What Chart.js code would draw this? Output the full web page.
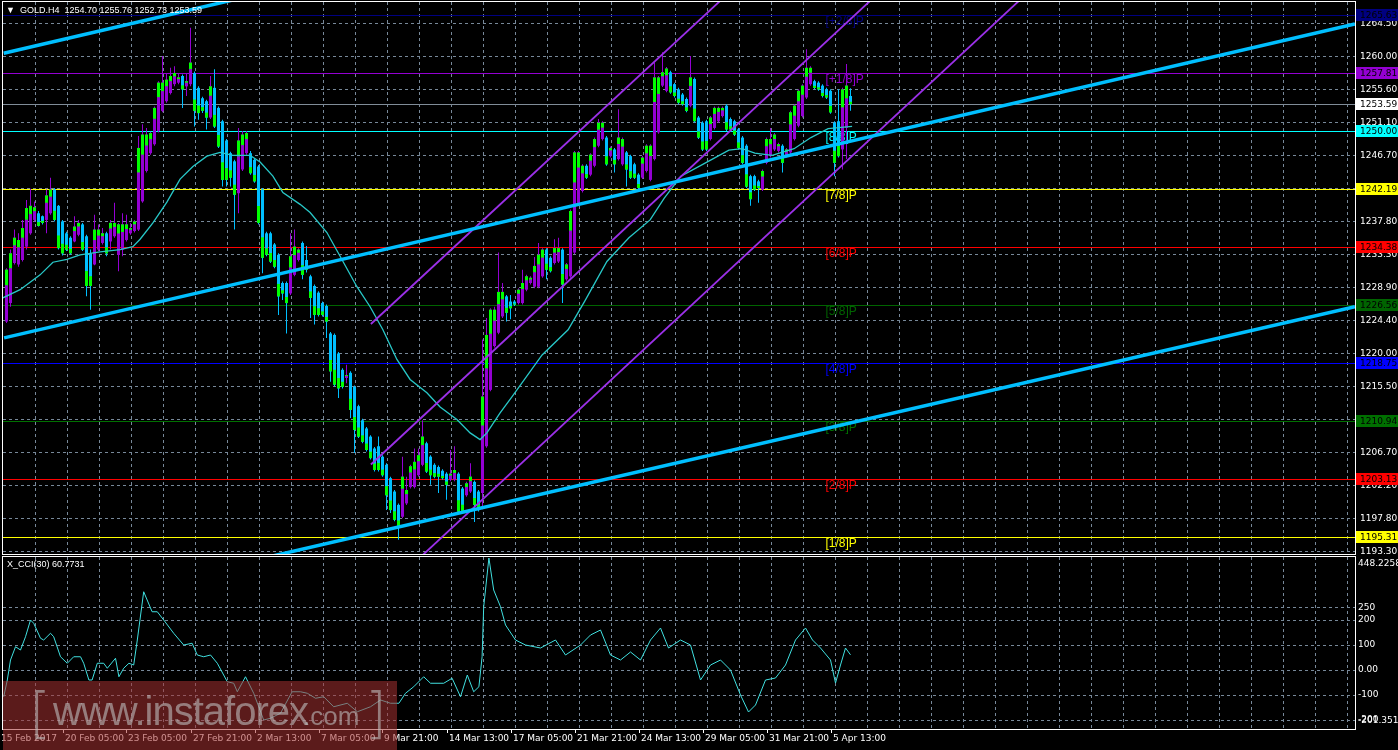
<!DOCTYPE html>
<html>
<head>
<meta charset="utf-8">
<title>GOLD.H4</title>
<script src="https://cdn.jsdelivr.net/npm/chart.js@4.4.1/dist/chart.umd.min.js"></script>
<style>
  html, body { margin:0; padding:0; background:#000; }
  #wrap { position:relative; width:1398px; height:750px; overflow:hidden; background:#000; font-family:"Liberation Sans", Arial, sans-serif; }
  canvas { position:absolute; left:0; }
  #main { top:0; }
  #osc { top:556px; }
  .lbl { position:absolute; color:#fff; font-size:9px; line-height:11px; white-space:pre; }
  #head { left:6px; top:5px; }
  #cciName { left:7px; top:559px; }
  #mark { position:absolute; left:3px; top:681px; width:394px; height:69px; background:rgba(165,50,50,0.55); white-space:nowrap; }
  #mark span { position:absolute; line-height:1; color:rgba(190,190,190,0.6); }
</style>
</head>
<body>
<div id="wrap">
  <canvas id="main" width="1398" height="556"></canvas>
  <canvas id="osc" width="1398" height="194"></canvas>
  <div id="head" class="lbl"></div>
  <div id="cciName" class="lbl"></div>
  <div id="mark">
    <span style="left:26px;top:4px;font-size:56px;font-family:'DejaVu Sans';font-weight:200;">[</span>
    <span style="left:50px;top:10px;font-size:40px;letter-spacing:-1px;">www.instaforex</span>
    <span style="left:300px;top:22px;font-size:26px;">.com</span>
    <span style="left:362px;top:4px;font-size:56px;font-family:'DejaVu Sans';font-weight:200;">]</span>
  </div>
</div>
<script>
// ---- data ----
const symbol = 'GOLD.H4';

// OHLC per H4 bar, bar 0 = 15 Feb 2017
const opens = [
  1224.3, 1226.8, 1232.2, 1232.0, 1232.6, 1234.4, 1236.2, 1238.0, 1238.9, 1238.5,
  1238.0, 1238.9, 1242.1, 1239.9, 1237.8, 1236.2, 1235.6, 1235.1, 1236.0, 1237.4,
  1235.8, 1233.5, 1232.0, 1234.0, 1234.9, 1236.2, 1235.1, 1235.8, 1233.3, 1234.0,
  1235.3, 1236.2, 1236.5, 1236.7, 1240.5, 1244.6, 1247.0, 1248.2, 1250.0, 1252.7,
  1254.0, 1255.1, 1256.3, 1256.5, 1257.4, 1256.0, 1256.3, 1257.8, 1255.8, 1254.4,
  1254.0, 1251.8, 1255.8, 1253.1, 1251.3, 1248.7, 1247.0, 1245.9, 1241.6, 1244.8,
  1247.0, 1247.0, 1246.1, 1245.2, 1242.1, 1236.2, 1236.2, 1234.7, 1233.3, 1229.5,
  1229.5, 1228.1, 1230.6, 1232.6, 1234.9, 1232.6, 1230.4, 1229.1, 1228.2, 1226.8,
  1226.4, 1222.7, 1222.5, 1220.0, 1217.8, 1216.7, 1217.4, 1215.5, 1212.9, 1211.0,
  1209.9, 1208.8, 1207.2, 1207.5, 1206.1, 1205.0, 1203.2, 1201.4, 1199.6, 1198.0,
  1199.8, 1202.0, 1202.0, 1203.6, 1205.0, 1207.9, 1206.1, 1205.0, 1204.7, 1204.2,
  1203.8, 1203.0, 1203.0, 1203.8, 1201.8, 1200.9, 1201.4, 1202.7, 1201.4, 1201.2,
  1207.5, 1215.1, 1221.0, 1222.8, 1225.0, 1227.7, 1227.0, 1227.0, 1226.8, 1226.8,
  1228.6, 1229.5, 1229.0, 1229.0, 1230.4, 1234.0, 1232.9, 1232.2, 1232.4, 1234.0,
  1230.0, 1230.4, 1233.6, 1240.3, 1241.9, 1245.3, 1244.1, 1245.3, 1248.0, 1248.9,
  1249.1, 1246.6, 1247.5, 1246.2, 1245.5, 1247.1, 1246.6, 1245.5, 1244.1, 1243.7,
  1244.6, 1243.4, 1246.2, 1249.8, 1256.1, 1255.4, 1257.9, 1256.3, 1255.6, 1254.9,
  1254.3, 1253.4, 1257.0, 1251.8, 1251.1, 1251.3, 1248.9, 1250.4, 1251.3, 1252.0,
  1253.4, 1251.6, 1251.3, 1250.2, 1249.1, 1248.0, 1243.9, 1243.9, 1243.2, 1242.1,
  1245.7, 1246.6, 1247.5, 1247.3, 1248.0, 1246.6, 1247.1, 1248.9, 1250.7, 1252.0,
  1254.5, 1256.3, 1256.7, 1256.5, 1256.1, 1255.6, 1255.4, 1251.1, 1251.3, 1247.5,
  1250.4, 1254.70
];
const highs = [
  1231.5, 1234.0, 1236.7, 1236.2, 1238.0, 1240.7, 1242.2, 1240.5, 1239.2, 1238.6,
  1242.1, 1243.7, 1242.3, 1240.0, 1238.0, 1236.4, 1235.8, 1238.5, 1238.0, 1237.6,
  1236.0, 1234.0, 1238.7, 1237.4, 1236.9, 1236.4, 1238.0, 1240.3, 1237.6, 1238.9,
  1238.7, 1237.6, 1238.0, 1249.3, 1250.9, 1250.4, 1249.9, 1253.3, 1256.7, 1260.1,
  1257.8, 1258.5, 1258.7, 1257.8, 1257.6, 1257.8, 1263.9, 1258.0, 1256.0, 1254.6,
  1254.2, 1257.4, 1258.3, 1253.3, 1251.5, 1248.9, 1247.2, 1246.1, 1250.4, 1250.0,
  1250.0, 1247.3, 1246.3, 1245.4, 1242.3, 1236.4, 1236.4, 1234.9, 1233.5, 1229.7,
  1229.7, 1236.2, 1236.7, 1234.2, 1235.1, 1234.5, 1230.6, 1229.3, 1228.4, 1227.0,
  1226.6, 1222.9, 1222.7, 1220.2, 1218.0, 1218.5, 1217.6, 1215.7, 1213.1, 1211.2,
  1210.1, 1209.0, 1207.4, 1208.8, 1206.3, 1205.2, 1203.4, 1201.6, 1199.8, 1206.1,
  1203.4, 1205.0, 1207.2, 1207.2, 1211.0, 1208.1, 1206.3, 1205.2, 1204.9, 1204.4,
  1204.0, 1207.0, 1207.5, 1204.0, 1202.0, 1202.7, 1205.2, 1202.9, 1201.6, 1221.9,
  1224.8, 1226.1, 1226.3, 1233.6, 1229.5, 1227.9, 1227.9, 1227.2, 1228.8, 1231.3,
  1230.6, 1230.4, 1233.0, 1234.9, 1234.2, 1234.2, 1233.1, 1235.4, 1235.6, 1234.2,
  1232.2, 1239.4, 1247.3, 1247.3, 1245.5, 1245.5, 1247.0, 1249.1, 1251.6, 1251.3,
  1249.3, 1247.9, 1247.7, 1252.9, 1249.1, 1247.3, 1246.8, 1245.7, 1244.3, 1246.6,
  1248.2, 1248.2, 1259.2, 1257.4, 1260.6, 1258.6, 1258.1, 1256.5, 1255.8, 1255.1,
  1254.5, 1260.1, 1257.2, 1252.0, 1251.3, 1251.5, 1252.0, 1253.3, 1253.3, 1253.3,
  1253.6, 1251.8, 1251.5, 1250.4, 1249.3, 1248.2, 1244.1, 1244.1, 1243.4, 1244.8,
  1249.1, 1250.4, 1249.7, 1248.4, 1248.2, 1247.7, 1252.7, 1253.6, 1255.6, 1256.3,
  1261.0, 1258.7, 1256.9, 1256.7, 1256.3, 1255.8, 1255.6, 1251.3, 1255.6, 1255.8,
  1259.0, 1255.76
];
const lows = [
  1224.1, 1226.3, 1232.0, 1231.7, 1232.4, 1234.0, 1236.0, 1237.8, 1237.1, 1237.4,
  1236.2, 1238.7, 1237.8, 1234.0, 1233.2, 1233.8, 1233.3, 1235.0, 1235.8, 1233.8,
  1227.7, 1225.9, 1231.9, 1233.8, 1234.7, 1233.1, 1234.0, 1235.6, 1231.1, 1233.1,
  1235.1, 1236.0, 1236.3, 1236.5, 1240.3, 1244.4, 1246.8, 1248.0, 1249.8, 1252.5,
  1253.8, 1254.9, 1256.0, 1256.3, 1253.1, 1254.7, 1256.0, 1250.6, 1251.5, 1252.4,
  1250.2, 1251.6, 1250.4, 1247.7, 1242.5, 1242.5, 1242.5, 1236.7, 1238.9, 1244.6,
  1246.8, 1244.1, 1243.0, 1237.4, 1230.8, 1233.1, 1232.2, 1231.5, 1225.2, 1227.2,
  1222.7, 1227.9, 1230.4, 1232.4, 1230.0, 1230.9, 1224.8, 1223.9, 1225.0, 1225.0,
  1222.1, 1216.2, 1215.6, 1214.0, 1215.3, 1216.0, 1211.3, 1206.6, 1208.6, 1207.9,
  1206.8, 1205.7, 1204.1, 1204.1, 1203.4, 1198.9, 1198.5, 1197.4, 1194.9, 1197.8,
  1199.6, 1201.8, 1201.8, 1203.4, 1204.8, 1203.9, 1202.3, 1203.2, 1201.2, 1203.0,
  1200.3, 1202.8, 1202.8, 1198.5, 1198.5, 1200.7, 1201.2, 1197.3, 1198.7, 1199.0,
  1207.3, 1214.9, 1220.8, 1222.6, 1224.8, 1224.3, 1224.6, 1226.4, 1226.6, 1226.6,
  1228.4, 1229.3, 1228.8, 1228.8, 1230.2, 1230.0, 1230.9, 1232.0, 1232.2, 1226.8,
  1229.8, 1230.2, 1233.4, 1240.1, 1241.7, 1243.5, 1243.9, 1245.1, 1247.8, 1248.7,
  1245.3, 1246.4, 1244.4, 1246.0, 1245.3, 1242.5, 1243.5, 1243.5, 1242.1, 1243.5,
  1244.4, 1243.2, 1246.0, 1249.6, 1255.9, 1255.2, 1255.0, 1254.5, 1253.6, 1253.4,
  1252.5, 1253.2, 1251.1, 1248.9, 1247.3, 1247.3, 1248.7, 1250.2, 1251.1, 1251.8,
  1250.0, 1250.0, 1249.3, 1247.5, 1245.5, 1242.3, 1239.9, 1241.9, 1240.3, 1241.9,
  1245.5, 1246.4, 1247.3, 1247.1, 1244.4, 1246.4, 1246.9, 1248.7, 1250.5, 1251.8,
  1254.3, 1256.1, 1255.6, 1255.4, 1254.5, 1254.3, 1252.3, 1243.9, 1246.4, 1244.8,
  1246.2, 1252.73
];
const closes = [
  1231.3, 1233.5, 1235.6, 1235.3, 1236.9, 1239.6, 1239.9, 1239.7, 1237.2, 1237.6,
  1241.3, 1242.1, 1238.0, 1234.2, 1233.5, 1234.0, 1233.5, 1237.1, 1237.6, 1234.0,
  1229.1, 1229.1, 1236.7, 1236.7, 1236.2, 1233.5, 1237.6, 1237.6, 1237.4, 1237.4,
  1237.4, 1236.9, 1237.8, 1247.7, 1249.5, 1249.5, 1249.7, 1253.1, 1256.5, 1256.5,
  1256.9, 1257.4, 1257.8, 1257.2, 1255.6, 1256.7, 1259.2, 1252.7, 1252.4, 1252.7,
  1251.8, 1256.0, 1250.6, 1247.9, 1243.4, 1243.4, 1243.7, 1241.4, 1248.7, 1249.5,
  1249.7, 1244.3, 1243.2, 1237.6, 1232.9, 1233.3, 1232.4, 1231.7, 1227.7, 1228.1,
  1226.8, 1233.1, 1234.4, 1234.0, 1230.6, 1231.3, 1227.5, 1225.2, 1225.2, 1225.2,
  1224.3, 1217.6, 1215.8, 1215.3, 1215.5, 1217.1, 1212.4, 1209.7, 1208.8, 1208.1,
  1207.0, 1205.9, 1204.3, 1204.3, 1203.6, 1200.9, 1198.9, 1197.6, 1196.6, 1203.4,
  1201.6, 1204.8, 1205.4, 1206.3, 1208.8, 1204.1, 1203.6, 1203.4, 1203.4, 1203.2,
  1202.3, 1203.8, 1204.3, 1198.7, 1198.7, 1202.5, 1203.4, 1199.6, 1198.9, 1214.2,
  1222.5, 1225.9, 1225.9, 1228.3, 1228.3, 1225.5, 1226.1, 1226.6, 1228.6, 1229.5,
  1230.4, 1230.2, 1231.8, 1233.3, 1234.0, 1231.3, 1231.1, 1234.2, 1234.2, 1229.3,
  1232.0, 1239.2, 1247.1, 1247.1, 1245.3, 1243.7, 1246.8, 1248.9, 1251.1, 1251.1,
  1245.5, 1247.7, 1245.5, 1249.1, 1248.9, 1244.8, 1243.7, 1243.7, 1242.3, 1246.4,
  1248.0, 1248.0, 1257.2, 1257.2, 1257.9, 1258.4, 1255.2, 1254.7, 1253.8, 1253.6,
  1252.7, 1257.2, 1251.3, 1249.1, 1247.5, 1247.5, 1251.8, 1253.1, 1253.1, 1253.1,
  1250.2, 1250.2, 1249.5, 1247.7, 1245.7, 1242.5, 1240.8, 1242.1, 1242.3, 1244.6,
  1248.9, 1248.9, 1249.5, 1248.2, 1245.7, 1247.5, 1252.5, 1253.4, 1255.4, 1256.1,
  1258.5, 1258.5, 1255.8, 1255.6, 1254.7, 1254.5, 1252.5, 1245.7, 1246.6, 1255.6,
  1256.1, 1253.59
];

// moving average (thin teal line), sampled at bar positions
const maBars = [-0.9, 3.4, 8.4, 11.6, 15.1, 18.4, 23.4, 28.4, 31.6, 33.4, 36.6, 40.1, 43.4, 46.6, 50.1, 53.4, 56.6, 60.9, 63.4, 66.6, 69.1, 73.4, 75.9, 80.1, 83.4, 87.6, 90.9, 94.1, 97.6, 100.9, 105.1, 108.4, 112.6, 115.9, 118.4, 120.1, 123.4, 126.4, 133.9, 140.4, 144.6, 150.1, 155.6, 160.9, 164.4, 168.6, 175.1, 180.6, 183.9, 187.1, 191.4, 196.9, 201.1, 205.4, 211.4];
const maValues = [1227.5, 1228.6, 1230.6, 1232.3, 1232.7, 1233.3, 1233.7, 1234.0, 1234.4, 1235.4, 1237.6, 1240.4, 1243.5, 1245.2, 1246.6, 1247.1, 1246.7, 1246.7, 1245.8, 1243.9, 1241.7, 1240.1, 1239.0, 1236.3, 1233.1, 1229.0, 1226.3, 1223.2, 1219.2, 1216.5, 1214.7, 1212.8, 1211.1, 1209.3, 1208.4, 1209.3, 1212.0, 1214.2, 1219.8, 1223.2, 1227.1, 1232.4, 1235.6, 1238.0, 1240.9, 1243.9, 1245.8, 1247.4, 1247.6, 1247.0, 1246.7, 1247.6, 1249.1, 1250.3, 1250.6];

// X_CCI(30)
const cciBars = [-0.7, 0.2, 1, 2.25, 3.5, 4.75, 6, 6.8, 8.5, 9.3, 11, 11.8, 13.5, 15.2, 16.8, 18.5, 19.3, 20.6, 21.4, 22.7, 24.3, 25.2, 27.25, 28.1, 29.3, 30.6, 31.8, 32.7, 34.3, 36.4, 37.7, 39.3, 41.8, 44.3, 46.4, 47.7, 49.3, 51, 52.7, 55.2, 56.8, 57.7, 59.75, 61.8, 64.3, 66, 68.5, 71.4, 73.5, 75.2, 77.25, 79.3, 81.8, 85.2, 87.7, 91, 93.5, 96, 98.1, 99.75, 101.8, 104.3, 106, 109.3, 111.4, 113.5, 115.2, 116.8, 118.1, 118.9, 119.3, 120.6, 121.8, 123.5, 124.75, 127.25, 129.75, 133.5, 137.25, 139.75, 143.5, 146, 148.5, 151, 153.5, 156, 158.5, 161, 163.5, 165.5, 168.5, 171, 173.5, 176, 178.5, 181, 183.5, 185.5, 187.25, 189.75, 192.25, 194.75, 197.25, 199.75, 201.5, 203.5, 206, 207.25, 208.5, 209.75, 211];
const cciValues = [-107, -40, 40, 93, 80, 133, 200, 187, 127, 120, 147, 133, 53, 27, 53, 53, 27, -40, -40, 27, 27, 7, 47, -27, 7, 27, 20, 120, 313, 233, 233, 200, 147, 100, 107, 60, 53, 60, 27, -47, -53, -87, -27, -93, -200, -193, -173, -87, -87, -93, -113, -107, -147, -133, -167, -147, -120, -133, -133, -93, -67, -27, -53, -53, -33, -107, -20, -87, -67, 53, 253, 448, 320, 253, 180, 120, 100, 88, 120, 60, 100, 140, 160, 60, 40, 72, 40, 120, 168, 88, 120, 100, -40, 20, 40, 0, -100, -168, -140, -40, -32, 20, 120, 168, 120, 88, 40, -52, 20, 88, 60.7731];
const cciMaxLabel = 448.2258;
const cciMinLabel = -201.3518;
const cciTicks = [250, 200, 100, 0, -100, -200];

// trend lines (bar, price) end points
const trendLow = [{x: 60, y: 1191.9}, {x: 337.1, y: 1226.31}];
const trendMid = [{x: -0.6, y: 1222.1}, {x: 337.1, y: 1264.41}];
const trendTop = [{x: -0.7, y: 1260.46}, {x: 60, y: 1268.07}];
const channelUp = [{x: 91.1, y: 1223.98}, {x: 180, y: 1268.31}];
const channelMid = [{x: 91.1, y: 1205.04}, {x: 218, y: 1268.57}];
const channelLow = [{x: 91.1, y: 1186.35}, {x: 256, y: 1268.97}];

// Murray math levels
const murrayLevels = [1265.63, 1257.81, 1250.00, 1242.19, 1234.38, 1226.56, 1218.75, 1210.94, 1203.13, 1195.31];
const murrayNames = ['[+2/8]P', '[+1/8]P', '[8/8]P', '[7/8]P', '[6/8]P', '[5/8]P', '[4/8]P', '[3/8]P', '[2/8]P', '[1/8]P'];
const murrayTextBar = 205;
const lastPrice = 1253.59;

// price axis ticks
const priceTicks = [1264.5, 1260.0, 1255.6, 1251.1, 1246.7, 1242.2, 1237.8, 1233.3, 1228.9, 1224.4, 1220.0, 1215.5, 1211.1, 1206.7, 1202.2, 1197.8, 1193.3];

// time axis labels
const timeLabelBars = [-2, 14, 30, 46, 62, 78, 94, 110, 126, 142, 158, 174, 190, 206];
const timeLabels = ['15 Feb 2017', '20 Feb 05:00', '23 Feb 05:00', '27 Feb 21:00', '2 Mar 13:00', '7 Mar 05:00', '9 Mar 21:00', '14 Mar 13:00', '17 Mar 05:00', '21 Mar 21:00', '24 Mar 13:00', '29 Mar 05:00', '31 Mar 21:00', '5 Apr 13:00'];

// ---- styles ----
const murrayColors = ['#000080', '#9400d3', '#00ffff', '#ffff00', '#ff0000', '#006400', '#0000ff', '#007000', '#ff0000', '#ffff00'];
const gridColor = 'rgb(119,136,153)';
const upColor = '#9400d3';
const downColor = '#00bfff';
const tipColor = '#00ff00';   // lime end of each body, on the close side
const TIP_SHARE = 0.3;
const axisFont = {family: 'DejaVu Sans', size: 9};
const X_MIN = -0.875, X_MAX = 337.125;   // 4px per bar
const GRID_FIRST = 7.3, GRID_STEP = 8;

const last = opens.length - 1;
document.getElementById('head').textContent =
  '\u25BC  ' + symbol + '  ' + [opens[last], highs[last], lows[last], closes[last]].map(v => v.toFixed(2)).join(' ');
document.getElementById('cciName').textContent = 'X_CCI(30) ' + cciValues[cciValues.length - 1].toFixed(4);

const bars = opens.map((_, i) => i);
const isUp = i => closes[i] >= opens[i];
const candleColor = c => isUp(c.dataIndex) ? upColor : downColor;
const pts = (xs, ys) => xs.map((x, i) => ({x: x, y: ys[i]}));

function timeScale() {
  return {
    type: 'linear', min: X_MIN, max: X_MAX, bounds: 'data', offset: false,
    afterBuildTicks: s => {
      const t = [];
      for (let v = GRID_FIRST; v < X_MAX; v += GRID_STEP) t.push({value: v});
      s.ticks = t;
    },
    afterFit: s => { s.height = 0; s.paddingLeft = 0; s.paddingRight = 0; },
    ticks: {display: false},
    grid: {color: gridColor, drawTicks: false, offset: false},
    border: {display: false, dash: [3, 3]}
  };
}

function lineSet(data, color, width, order) {
  return {type: 'line', data: data, borderColor: color, borderWidth: width, pointRadius: 0,
          tension: 0, fill: false, order: order};
}

function frame(ctx, a) {
  ctx.save();
  ctx.fillStyle = '#ffffff';
  const w = a.right - a.left, h = a.bottom - a.top;
  ctx.fillRect(a.left - 1, a.top - 1, w + 2, 1);
  ctx.fillRect(a.left - 1, a.bottom, w + 2, 1);
  ctx.fillRect(a.left - 1, a.top - 1, 1, h + 2);
  ctx.fillRect(a.right, a.top - 1, 1, h + 2);
  ctx.restore();
}

function priceBox(ctx, py, text, bg, a) {
  ctx.fillStyle = bg;
  ctx.fillRect(a.right + 1, py - 6, 43, 12);
  ctx.fillStyle = '#000';
  ctx.font = '9px "DejaVu Sans"';
  ctx.textBaseline = 'middle';
  ctx.textAlign = 'left';
  ctx.fillText(text, a.right + 5, py + 0.5);
}

const mainDecor = {
  id: 'mainDecor',
  beforeDatasetsDraw(chart) {
    const {ctx, chartArea: a, scales: {x, y}} = chart;
    const w = a.right - a.left;
    ctx.save();
    // level lines as 1px filled strips so they stay crisp
    murrayLevels.forEach((v, k) => {
      ctx.fillStyle = murrayColors[k];
      ctx.fillRect(a.left, Math.round(y.getPixelForValue(v)), w, 1);
    });
    ctx.fillStyle = 'rgb(128,140,152)';
    ctx.fillRect(a.left, Math.round(y.getPixelForValue(lastPrice)), w, 1);
    ctx.font = '12px "Liberation Sans"';
    ctx.textBaseline = 'top';
    ctx.textAlign = 'left';
    const tx = x.getPixelForValue(murrayTextBar) - 1;
    murrayLevels.forEach((v, k) => {
      ctx.fillStyle = murrayColors[k];
      ctx.fillText(murrayNames[k], tx, y.getPixelForValue(v) + 1);
    });
    ctx.restore();
  },
  afterDraw(chart) {
    const {ctx, chartArea: a, scales: {y}} = chart;
    ctx.save();
    murrayLevels.forEach((v, k) => {
      priceBox(ctx, Math.round(y.getPixelForValue(v)), v.toFixed(2), murrayColors[k], a);
    });
    priceBox(ctx, Math.round(y.getPixelForValue(lastPrice)), lastPrice.toFixed(2), '#ffffff', a);
    ctx.restore();
    frame(ctx, a);
  }
};

new Chart(document.getElementById('main'), {
  type: 'line',
  data: {
    datasets: [
      lineSet(trendLow, '#00bfff', 3.5, 1),
      lineSet(trendMid, '#00bfff', 3.5, 1),
      lineSet(trendTop, '#00bfff', 3.5, 1),
      lineSet(channelUp, '#9b30e8', 1.8, 2),
      lineSet(channelMid, '#9b30e8', 1.8, 2),
      lineSet(channelLow, '#9b30e8', 1.8, 2),
      lineSet(pts(maBars, maValues), 'rgb(40,200,200)', 1.3, 3),
      {type: 'bar', data: bars.map(i => ({x: i, y: [lows[i], highs[i]]})),
       backgroundColor: candleColor, barThickness: 1, grouped: false, inflateAmount: 0, order: 10},
      {type: 'bar', data: bars.map(i => ({x: i, y: [opens[i], closes[i]]})),
       backgroundColor: candleColor, barThickness: 3, minBarLength: 1, grouped: false, inflateAmount: 0, order: 9},
      {type: 'bar', data: bars.map(i => ({x: i, y: [closes[i] - TIP_SHARE * (closes[i] - opens[i]), closes[i]]})),
       backgroundColor: tipColor, barThickness: 3, grouped: false, inflateAmount: 0, order: 8}
    ]
  },
  options: {
    responsive: false, animation: false, events: [], devicePixelRatio: 1,
    layout: {padding: {left: 3, top: 2, right: 0, bottom: 2}, autoPadding: false},
    plugins: {legend: {display: false}, tooltip: {enabled: false}},
    scales: {
      x: timeScale(),
      y: {
        type: 'linear', position: 'right', min: 1192.98, max: 1267.37, bounds: 'data',
        afterBuildTicks: s => { s.ticks = priceTicks.map(v => ({value: v})); },
        afterFit: s => { s.width = 43; s.paddingTop = 0; s.paddingBottom = 0; },
        ticks: {color: '#ffffff', font: axisFont, padding: 5, autoSkip: false, callback: v => v.toFixed(2)},
        grid: {color: gridColor, drawTicks: false},
        border: {display: false, dash: [3, 3]}
      }
    }
  },
  plugins: [mainDecor]
});

const oscDecor = {
  id: 'oscDecor',
  afterDraw(chart) {
    const {ctx, chartArea: a, scales: {x, y}} = chart;
    ctx.save();
    ctx.fillStyle = '#ffffff';
    ctx.font = '9px "DejaVu Sans"';
    ctx.textAlign = 'left';
    ctx.textBaseline = 'top';
    ctx.fillText(cciMaxLabel.toFixed(4), a.right + 3, y.getPixelForValue(cciMaxLabel) + 1);
    ctx.textBaseline = 'middle';
    ctx.fillText(cciMinLabel.toFixed(4), a.right + 3, y.getPixelForValue(cciMinLabel));
    timeLabelBars.forEach((b, k) => {
      const px = Math.round(x.getPixelForValue(b));
      ctx.fillRect(px, a.bottom, 1, 4);
      ctx.fillText(timeLabels[k], px + 2, a.bottom + 10);
    });
    ctx.restore();
    frame(ctx, a);
  }
};

new Chart(document.getElementById('osc'), {
  type: 'line',
  data: {
    datasets: [lineSet(pts(cciBars, cciValues), 'rgb(64,224,224)', 1, 1)]
  },
  options: {
    responsive: false, animation: false, events: [], devicePixelRatio: 1,
    layout: {padding: {left: 3, top: 1, right: 0, bottom: 21}, autoPadding: false},
    plugins: {legend: {display: false}, tooltip: {enabled: false}},
    scales: {
      x: timeScale(),
      y: {
        type: 'linear', position: 'right', min: -236, max: 452, bounds: 'data',
        afterBuildTicks: s => { s.ticks = cciTicks.map(v => ({value: v})); },
        afterFit: s => { s.width = 43; s.paddingTop = 0; s.paddingBottom = 0; },
        ticks: {color: '#ffffff', font: axisFont, padding: 3, autoSkip: false,
                callback: v => v === 0 ? '0.00' : String(v)},
        grid: {color: gridColor, drawTicks: false},
        border: {display: false, dash: [3, 3]}
      }
    }
  },
  plugins: [oscDecor]
});
</script>
</body>
</html>
